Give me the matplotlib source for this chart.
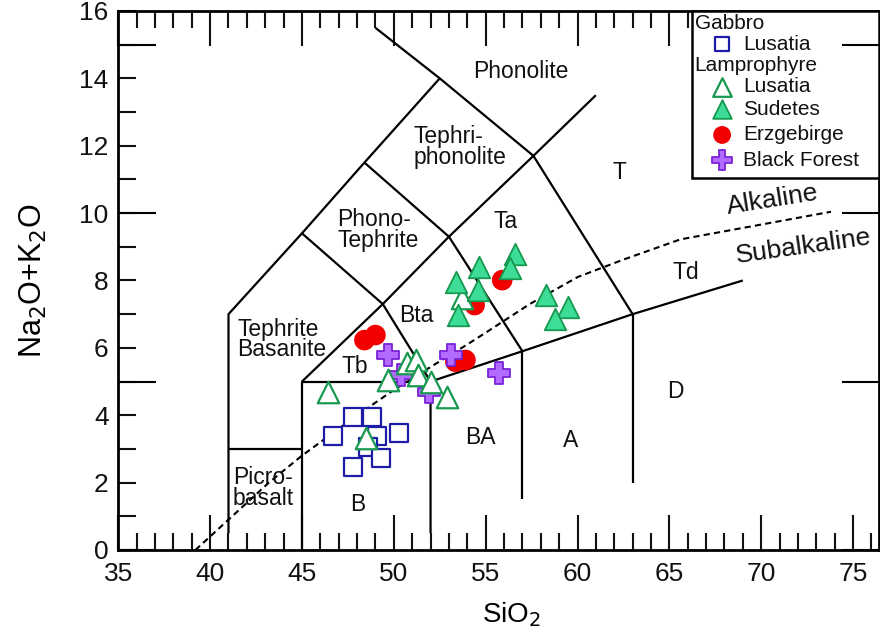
import matplotlib
matplotlib.use("Agg")
import matplotlib.pyplot as plt
from matplotlib.patches import Rectangle

plt.rcParams["font.family"] = ["Liberation Sans", "DejaVu Sans"]
plt.rcParams["text.color"] = "#111111"

# TAS field boundaries (SiO2, Na2O+K2O)
boundaries = [
    [(41, 0.5), (41, 7), (45, 9.4), (48.4, 11.5), (52.5, 14)],
    [(49.0, 15.5), (52.5, 14), (57.6, 11.7), (63, 7)],
    [(41, 3), (45, 3)],
    [(45, 0), (45, 5), (52, 5)],
    [(52, 0.5), (52, 5), (57, 5.9), (63, 7), (69, 8)],
    [(57, 1.5), (57, 5.9)],
    [(63, 2), (63, 7)],
    [(45, 9.4), (49.4, 7.3), (52, 5)],
    [(45, 5), (49.4, 7.3), (53, 9.3), (57.6, 11.7), (61, 13.5)],
    [(48.4, 11.5), (53, 9.3), (57, 5.9)],
]

# alkaline / subalkaline divide (Irvine & Baragar)
alk_x = [39.2, 40, 43.2, 45, 48, 50, 52.35, 54, 55, 57.4, 60, 62.5, 65.6, 70.6, 73.8]
alk_y = [0, 0.4, 2, 2.8, 4, 4.75, 5.55, 6.1, 6.45, 7.3, 8.1, 8.62, 9.22, 9.72, 10.04]

field_names = ["Phonolite", "Tephri-\nphonolite", "T", "Phono-\nTephrite", "Ta",
               "Tephrite\nBasanite", "Tb", "Bta", "Td", "Picro-\nbasalt",
               "B", "BA", "A", "D"]
field_x = [56.9, 53.6, 62.3, 49.15, 56.1, 43.9, 47.9, 51.25, 65.9, 42.9,
           48.05, 54.7, 59.6, 65.35]
field_y = [14.2, 11.95, 11.2, 9.5, 9.75, 6.25, 5.45, 6.95, 8.25, 1.85,
           1.35, 3.35, 3.25, 4.7]

# samples
gabbro_lus_x = [47.8, 48.8, 46.7, 49.1, 50.3, 48.6, 49.3, 47.8]
gabbro_lus_y = [3.94, 3.94, 3.38, 3.38, 3.46, 3.07, 2.72, 2.47]

lamp_lus_x = [50.7, 51.2, 49.7, 51.3, 52.0, 52.9, 46.4, 48.5, 53.7]
lamp_lus_y = [5.54, 5.64, 5.04, 5.19, 4.99, 4.55, 4.7, 3.31, 7.47]

sudetes_x = [56.6, 56.3, 54.65, 53.4, 54.6, 53.5, 58.3, 59.5, 58.8]
sudetes_y = [8.8, 8.36, 8.41, 7.96, 7.72, 6.97, 7.57, 7.22, 6.87]

erz_x = [55.9, 54.4, 48.4, 49.0, 53.9, 53.35]
erz_y = [8.01, 7.27, 6.23, 6.38, 5.64, 5.59]

bf_x = [49.7, 53.1, 50.4, 51.9, 55.7]
bf_y = [5.79, 5.79, 5.19, 4.7, 5.24]

BLUE = "#1c1ca8"
GREEN_EDGE = "#17994f"
GREEN_FILL = "#3ddc97"
RED = "#f20000"
PURPLE_FILL = "#b36bff"
PURPLE_EDGE = "#7a22d6"

styles = {
    "sq": dict(marker="s", s=150, facecolor="white", edgecolor=BLUE, linewidths=1.6),
    "tri_open": dict(marker="^", s=240, facecolor="white", edgecolor=GREEN_EDGE, linewidths=1.6),
    "tri": dict(marker="^", s=240, facecolor=GREEN_FILL, edgecolor=GREEN_EDGE, linewidths=1.3),
    "circ": dict(marker="o", s=220, facecolor=RED, edgecolor="none"),
    "cross": dict(marker="P", s=260, facecolor=PURPLE_FILL, edgecolor=PURPLE_EDGE, linewidths=1.3),
}

fig = plt.figure(figsize=(8.8, 6.35), dpi=100)
ax = fig.add_axes([0.1344, 0.1339, 0.8642, 0.8488])

for line in boundaries:
    xs, ys = zip(*line)
    ax.plot(xs, ys, color="black", lw=1.6, solid_capstyle="butt", zorder=2)

ax.plot(alk_x, alk_y, color="black", lw=1.5, linestyle=(0, (3, 2)), zorder=2)

for name, x, y in zip(field_names, field_x, field_y):
    ax.text(x, y, name, ha="center", va="center", fontsize=16.5,
            multialignment="left", linespacing=0.88, zorder=3)

ax.text(70.6, 10.4, "Alkaline", ha="center", va="center", fontsize=19, rotation=9)
ax.text(72.3, 9.0, "Subalkaline", ha="center", va="center", fontsize=19, rotation=8)

ax.scatter(gabbro_lus_x, gabbro_lus_y, zorder=4, **styles["sq"])
ax.scatter(erz_x, erz_y, zorder=5, **styles["circ"])
ax.scatter(bf_x, bf_y, zorder=6, **styles["cross"])
ax.scatter(lamp_lus_x, lamp_lus_y, zorder=7, **styles["tri_open"])
ax.scatter(sudetes_x, sudetes_y, zorder=8, **styles["tri"])

ax.set_xlim(35, 76.4)
ax.set_ylim(0, 16)
ax.set_xticks(range(35, 76, 5))
ax.set_xticks(range(35, 77), minor=True)
ax.set_yticks(range(0, 17, 2))
ax.set_yticks(range(0, 17), minor=True)

ax.tick_params(axis="both", which="both", direction="in", top=True, right=True,
               width=1.5, labelsize=19, colors="#111111")
ax.tick_params(axis="x", which="major", length=25, pad=9)
ax.tick_params(axis="x", which="minor", length=12)
ax.tick_params(axis="y", which="both", length=13, pad=7)
for sp in ax.spines.values():
    sp.set_linewidth(2.0)

# longer ticks every 5 units on the y axis
ax2 = ax.twinx()
ax2.set_ylim(0, 16)
ax2.set_yticks([0, 5, 10, 15])
ax2.tick_params(axis="y", direction="in", length=27, width=1.5, left=True, right=True,
                labelleft=False, labelright=False)
for sp in ax2.spines.values():
    sp.set_visible(False)

ax.set_xlabel("SiO$_2$", fontsize=20, labelpad=10)
ax.xaxis.label.set_x(0.517)
ax.set_ylabel("Na$_2$O+K$_2$O", fontsize=22, labelpad=22)

# legend box
ax.add_patch(Rectangle((0.754, 0.690), 0.246, 0.310, transform=ax.transAxes,
                       facecolor="white", edgecolor="black", lw=1.8, zorder=10,
                       clip_on=False))
hx, mx, tx = 0.758, 0.794, 0.822
ax.text(hx, 0.977, "Gabbro", transform=ax.transAxes, fontsize=15, va="center", zorder=11)
ax.text(hx, 0.899, "Lamprophyre", transform=ax.transAxes, fontsize=15, va="center", zorder=11)
entries = [("sq", "Lusatia", 0.938), ("tri_open", "Lusatia", 0.859),
           ("tri", "Sudetes", 0.818), ("circ", "Erzgebirge", 0.770),
           ("cross", "Black Forest", 0.723)]
for key, label, y in entries:
    st = dict(styles[key])
    st["s"] = st["s"] * 0.75
    ax.scatter([mx], [y], transform=ax.transAxes, zorder=11, clip_on=False, **st)
    ax.text(tx, y, label, transform=ax.transAxes, fontsize=15, va="center", zorder=11)

fig.savefig("out.png", dpi=100)
